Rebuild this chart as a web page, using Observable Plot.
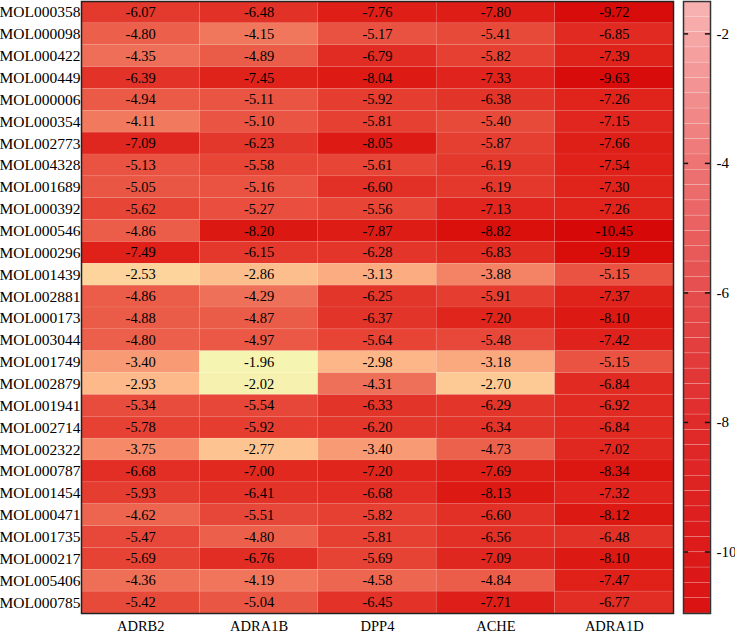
<!DOCTYPE html>
<html>
<head>
<meta charset="utf-8">
<script src="https://cdn.jsdelivr.net/npm/d3@7"></script>
<script src="https://cdn.jsdelivr.net/npm/@observablehq/plot@0.6"></script>
<style>
  html, body { margin: 0; padding: 0; background: #fff; }
  #wrap { display: flex; flex-direction: row; width: 735px; height: 634px; overflow: hidden; }
  svg { display: block; }
</style>
</head>
<body>
<div id="wrap"></div>
<script>
const molecules = ["MOL000358","MOL000098","MOL000422","MOL000449","MOL000006","MOL000354","MOL002773","MOL004328","MOL001689","MOL000392","MOL000546","MOL000296","MOL001439","MOL002881","MOL000173","MOL003044","MOL001749","MOL002879","MOL001941","MOL002714","MOL002322","MOL000787","MOL001454","MOL000471","MOL001735","MOL000217","MOL005406","MOL000785"];
const targets = ["ADRB2","ADRA1B","DPP4","ACHE","ADRA1D"];
const ADRB2 = [-6.07,-4.80,-4.35,-6.39,-4.94,-4.11,-7.09,-5.13,-5.05,-5.62,-4.86,-7.49,-2.53,-4.86,-4.88,-4.80,-3.40,-2.93,-5.34,-5.78,-3.75,-6.68,-5.93,-4.62,-5.47,-5.69,-4.36,-5.42];
const ADRA1B = [-6.48,-4.15,-4.89,-7.45,-5.11,-5.10,-6.23,-5.58,-5.16,-5.27,-8.20,-6.15,-2.86,-4.29,-4.87,-4.97,-1.96,-2.02,-5.54,-5.92,-2.77,-7.00,-6.41,-5.51,-4.80,-6.76,-4.19,-5.04];
const DPP4 = [-7.76,-5.17,-6.79,-8.04,-5.92,-5.81,-8.05,-5.61,-6.60,-5.56,-7.87,-6.28,-3.13,-6.25,-6.37,-5.64,-2.98,-4.31,-6.33,-6.20,-3.40,-7.20,-6.68,-5.82,-5.81,-5.69,-4.58,-6.45];
const ACHE = [-7.80,-5.41,-5.82,-7.33,-6.38,-5.40,-5.87,-6.19,-6.19,-7.13,-8.82,-6.83,-3.88,-5.91,-7.20,-5.48,-3.18,-2.70,-6.29,-6.34,-4.73,-7.69,-8.13,-6.60,-6.56,-7.09,-4.84,-7.71];
const ADRA1D = [-9.72,-6.85,-7.39,-9.63,-7.26,-7.15,-7.66,-7.54,-7.30,-7.26,-10.45,-9.19,-5.15,-7.37,-8.10,-7.42,-5.15,-6.84,-6.92,-6.84,-7.02,-8.34,-7.32,-8.12,-6.48,-8.10,-7.47,-6.77];
const legendTicks = [-2, -4, -6, -8, -10];

const series = {ADRB2, ADRA1B, DPP4, ACHE, ADRA1D};
const table = [];
targets.forEach(t => molecules.forEach((m, i) => table.push({target: t, mol: m, value: series[t][i]})));

const FONT = "'Liberation Serif', 'Times New Roman', serif";

const heat = Plot.plot({
  width: 683, height: 634,
  marginLeft: 81, marginRight: 10, marginTop: 1, marginBottom: 21,
  style: {fontFamily: FONT, color: "#000", background: "#fff"},
  x: {domain: targets, padding: 0, round: false, label: null},
  y: {domain: molecules, padding: 0, round: false, label: null},
  color: {
    type: "linear",
    domain: [-10.45, -8.8, -7.2, -6.3, -5.4, -4.3, -3.5, -2.9, -2.5, -1.96],
    range: ["#d70808", "#da100c", "#e0251d", "#e3352a", "#e84a3a", "#ef7058", "#f7956f", "#fdbb8b", "#fdd69c", "#f6f4b1"],
    interpolate: "rgb"
  },
  marks: [
    Plot.cell(table, {x: "target", y: "mol", fill: "value", stroke: "#fff", strokeOpacity: 0.12, strokeWidth: 0.6}),
    Plot.text(table, {x: "target", y: "mol", text: d => d.value.toFixed(2), fill: "#000", fontSize: 14.5}),
    Plot.axisX({tickSize: 0, tickPadding: 7, fontSize: 14.5, label: null}),
    Plot.axisY({tickSize: 0, tickPadding: 1, fontSize: 15.5, label: null}),
    Plot.frame({stroke: "#222", strokeWidth: 1.5})
  ]
});

const lo = -10.95, hi = -1.5, nSeg = 40;
const segs = d3.range(nSeg).map(i => ({
  y1: hi + (lo - hi) * i / nSeg,
  y2: hi + (lo - hi) * (i + 1) / nSeg,
  v: hi + (lo - hi) * (i + 0.5) / nSeg
}));

const bar = Plot.plot({
  width: 52, height: 634,
  marginLeft: 0, marginRight: 25, marginTop: 1, marginBottom: 21,
  style: {fontFamily: FONT, color: "#000", background: "#fff", overflow: "visible"},
  x: {domain: [0, 1], axis: null},
  y: {domain: [lo, hi], label: null},
  color: {
    type: "linear",
    domain: [-10.95, -8, -6, -4, -1.5],
    range: ["#db1212", "#e02b2b", "#e64d4d", "#ee7474", "#f9b4b4"],
    interpolate: "rgb"
  },
  marks: [
    Plot.rect(segs, {x1: 0, x2: 1, y1: "y1", y2: "y2", fill: "v", stroke: "#fff", strokeOpacity: 0.25, strokeWidth: 0.6}),
    Plot.ruleY(legendTicks, {x1: 0, x2: 0.19, stroke: "#111", strokeWidth: 1.5}),
    Plot.ruleY(legendTicks, {x1: 0.81, x2: 1, stroke: "#111", strokeWidth: 1.5}),
    Plot.axisY(legendTicks, {anchor: "right", tickSize: 0, tickPadding: 6, fontSize: 15, tickFormat: d => String(d), label: null}),
    Plot.frame({stroke: "#333", strokeWidth: 1.5})
  ]
});

const wrap = document.getElementById("wrap");
wrap.appendChild(heat);
wrap.appendChild(bar);
</script>
</body>
</html>
